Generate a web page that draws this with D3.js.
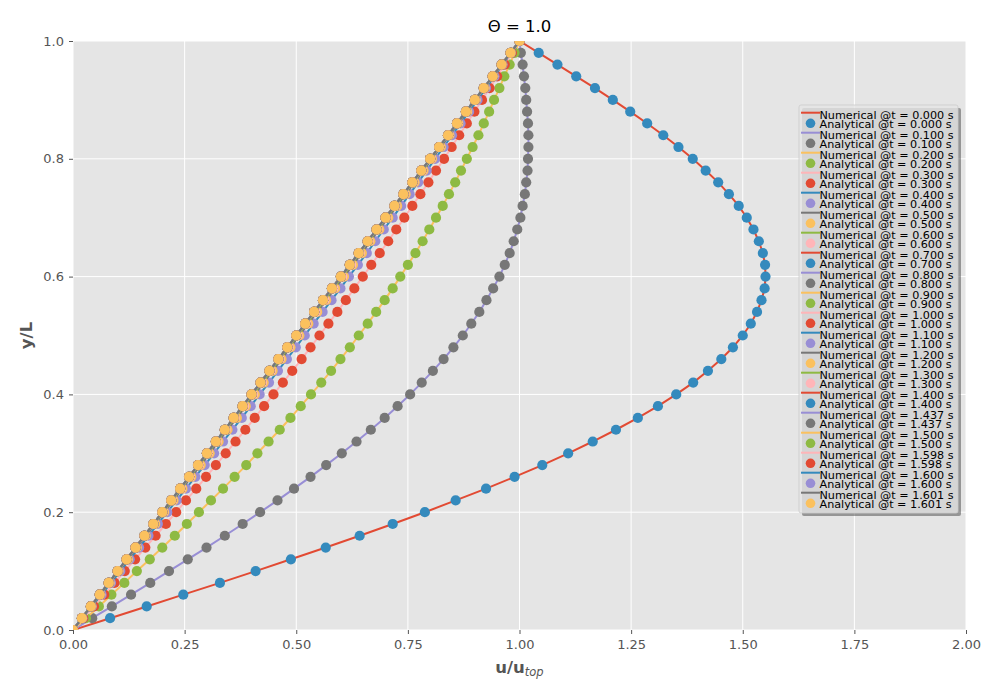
<!DOCTYPE html>
<html>
<head>
<meta charset="utf-8">
<script src="https://cdn.jsdelivr.net/npm/d3@7"></script>
<style>
  body { margin: 0; background: #fff; }
  svg text { font-family: "DejaVu Sans", sans-serif; }
</style>
</head>
<body>
<svg id="chart" width="1000" height="700"></svg>
<script>
// ── data ────────────────────────────────────────────────────
const yPos = [0, 0.02, 0.04, 0.06, 0.08, 0.10, 0.12, 0.14, 0.16, 0.18, 0.20, 0.22, 0.24, 0.26, 0.28, 0.30,
  0.32, 0.34, 0.36, 0.38, 0.40, 0.42, 0.44, 0.46, 0.48, 0.50, 0.52, 0.54, 0.56, 0.58, 0.60, 0.62, 0.64,
  0.66, 0.68, 0.70, 0.72, 0.74, 0.76, 0.78, 0.80, 0.82, 0.84, 0.86, 0.88, 0.90, 0.92, 0.94, 0.96, 0.98, 1.00];

const timeLabels = ['0.000', '0.100', '0.200', '0.300', '0.400', '0.500', '0.600', '0.700', '0.800', '0.900',
  '1.000', '1.100', '1.200', '1.300', '1.400', '1.437', '1.500', '1.598', '1.600', '1.601'];

const uT000 = [0, 0.083, 0.165, 0.247, 0.329, 0.409, 0.488, 0.566, 0.642, 0.716, 0.788, 0.857, 0.925, 0.989,
  1.051, 1.109, 1.164, 1.216, 1.265, 1.310, 1.351, 1.389, 1.422, 1.452, 1.478, 1.500, 1.518, 1.532, 1.542,
  1.549, 1.551, 1.550, 1.545, 1.536, 1.524, 1.509, 1.491, 1.469, 1.445, 1.417, 1.388, 1.356, 1.322, 1.286,
  1.248, 1.209, 1.169, 1.127, 1.085, 1.043, 1.000];
const uT010 = [0, 0.043, 0.087, 0.130, 0.173, 0.215, 0.257, 0.299, 0.340, 0.380, 0.419, 0.458, 0.495, 0.532,
  0.567, 0.602, 0.635, 0.667, 0.698, 0.727, 0.755, 0.781, 0.806, 0.830, 0.852, 0.873, 0.892, 0.910, 0.926,
  0.941, 0.955, 0.967, 0.978, 0.987, 0.995, 1.002, 1.007, 1.012, 1.015, 1.018, 1.019, 1.020, 1.020, 1.019,
  1.017, 1.015, 1.013, 1.010, 1.007, 1.003, 1.000];
const uT020 = [0, 0.029, 0.058, 0.086, 0.115, 0.143, 0.172, 0.200, 0.228, 0.255, 0.282, 0.309, 0.336, 0.362,
  0.388, 0.413, 0.438, 0.463, 0.487, 0.510, 0.533, 0.556, 0.578, 0.599, 0.620, 0.640, 0.660, 0.679, 0.698,
  0.716, 0.733, 0.750, 0.767, 0.783, 0.798, 0.813, 0.828, 0.842, 0.856, 0.869, 0.882, 0.895, 0.908, 0.920,
  0.932, 0.943, 0.955, 0.966, 0.978, 0.989, 1.000];
const uT030 = [0, 0.023, 0.047, 0.070, 0.093, 0.116, 0.139, 0.162, 0.185, 0.208, 0.231, 0.253, 0.276, 0.298,
  0.320, 0.342, 0.364, 0.386, 0.407, 0.428, 0.449, 0.470, 0.491, 0.512, 0.532, 0.552, 0.572, 0.592, 0.611,
  0.630, 0.649, 0.668, 0.687, 0.706, 0.724, 0.742, 0.760, 0.778, 0.796, 0.813, 0.831, 0.848, 0.865, 0.882,
  0.899, 0.916, 0.933, 0.950, 0.967, 0.983, 1.000];
const uT040 = [0, 0.021, 0.042, 0.064, 0.085, 0.106, 0.127, 0.148, 0.169, 0.190, 0.211, 0.232, 0.253, 0.274,
  0.295, 0.316, 0.336, 0.357, 0.378, 0.398, 0.418, 0.439, 0.459, 0.479, 0.499, 0.519, 0.539, 0.559, 0.579,
  0.599, 0.618, 0.638, 0.658, 0.677, 0.696, 0.716, 0.735, 0.754, 0.773, 0.792, 0.811, 0.830, 0.849, 0.868,
  0.887, 0.906, 0.925, 0.944, 0.962, 0.981, 1.000];
const uT050 = [0, 0.020, 0.041, 0.061, 0.082, 0.102, 0.123, 0.143, 0.163, 0.184, 0.204, 0.225, 0.245, 0.265,
  0.286, 0.306, 0.326, 0.346, 0.367, 0.387, 0.407, 0.427, 0.447, 0.467, 0.487, 0.507, 0.527, 0.547, 0.567,
  0.587, 0.607, 0.627, 0.647, 0.666, 0.686, 0.706, 0.726, 0.745, 0.765, 0.785, 0.804, 0.824, 0.843, 0.863,
  0.883, 0.902, 0.922, 0.941, 0.961, 0.980, 1.000];
const uT060 = [0, 0.020, 0.040, 0.061, 0.081, 0.101, 0.121, 0.141, 0.161, 0.181, 0.202, 0.222, 0.242, 0.262,
  0.282, 0.302, 0.322, 0.342, 0.362, 0.383, 0.403, 0.423, 0.443, 0.463, 0.483, 0.503, 0.523, 0.543, 0.563,
  0.583, 0.603, 0.623, 0.642, 0.662, 0.682, 0.702, 0.722, 0.742, 0.762, 0.782, 0.802, 0.821, 0.841, 0.861,
  0.881, 0.901, 0.921, 0.941, 0.960, 0.980, 1.000];
// t >= 0.7 s : all profiles sit on the straight line
const uLate = [0, 0.02, 0.04, 0.06, 0.08, 0.10, 0.12, 0.14, 0.16, 0.18, 0.20, 0.22, 0.24, 0.26, 0.28, 0.30,
  0.32, 0.34, 0.36, 0.38, 0.40, 0.42, 0.44, 0.46, 0.48, 0.50, 0.52, 0.54, 0.56, 0.58, 0.60, 0.62, 0.64,
  0.66, 0.68, 0.70, 0.72, 0.74, 0.76, 0.78, 0.80, 0.82, 0.84, 0.86, 0.88, 0.90, 0.92, 0.94, 0.96, 0.98, 1.00];

const profiles = [uT000, uT010, uT020, uT030, uT040, uT050, uT060,
  uLate, uLate, uLate, uLate, uLate, uLate, uLate, uLate, uLate, uLate, uLate, uLate, uLate];

const xTicks = [0, 0.25, 0.5, 0.75, 1.0, 1.25, 1.5, 1.75, 2.0];
const yTicks = [0, 0.2, 0.4, 0.6, 0.8, 1.0];

// ggplot colour cycle
const palette = ['#E24A33', '#348ABD', '#988ED5', '#777777', '#FBC15E', '#8EBA42', '#FFB5B8'];

// ── layout ──────────────────────────────────────────────────
const margin = { top: 41, right: 34, bottom: 70, left: 73 };
const W = 1000 - margin.left - margin.right;
const H = 700 - margin.top - margin.bottom;

const svg = d3.select('#chart');
const g = svg.append('g').attr('transform', `translate(${margin.left},${margin.top})`);

const x = d3.scaleLinear().domain([0, 2]).range([0, W]);
const y = d3.scaleLinear().domain([0, 1]).range([H, 0]);

g.append('rect').attr('width', W).attr('height', H).attr('fill', '#E5E5E5');

svg.append('defs').append('clipPath').attr('id', 'plot-clip')
  .append('rect').attr('width', W).attr('height', H);

// grid
g.selectAll('.grid-x')
  .data(xTicks).enter().append('line')
    .attr('x1', d => x(d)).attr('x2', d => x(d))
    .attr('y1', 0).attr('y2', H)
    .attr('stroke', '#fff').attr('stroke-width', 1);
g.selectAll('.grid-y')
  .data(yTicks).enter().append('line')
    .attr('x1', 0).attr('x2', W)
    .attr('y1', d => y(d)).attr('y2', d => y(d))
    .attr('stroke', '#fff').attr('stroke-width', 1);

// axes
const xAxis = g.append('g')
  .attr('transform', `translate(0,${H})`)
  .call(d3.axisBottom(x).tickValues(xTicks).tickFormat(d3.format('.2f')).tickSize(4).tickPadding(6));
const yAxis = g.append('g')
  .call(d3.axisLeft(y).tickValues(yTicks).tickFormat(d3.format('.1f')).tickSize(4).tickPadding(5));
[xAxis, yAxis].forEach(a => {
  a.select('.domain').remove();
  a.selectAll('line').attr('stroke', '#555555');
  a.selectAll('text').attr('fill', '#555555').attr('font-size', 13)
    .attr('font-family', '"DejaVu Sans", sans-serif');
});

// profiles: numerical line then analytical markers, in plot order
const data = g.append('g').attr('clip-path', 'url(#plot-clip)');
const line = d3.line().x(d => x(d[0])).y(d => y(d[1]));

profiles.forEach((u, i) => {
  const pts = u.map((v, k) => [v, yPos[k]]);
  data.append('path')
    .datum(pts)
    .attr('d', line)
    .attr('fill', 'none')
    .attr('stroke', palette[(2 * i) % 7])
    .attr('stroke-width', 2);
  data.selectAll(`.pt-${i}`)
    .data(pts).enter().append('circle')
      .attr('cx', d => x(d[0]))
      .attr('cy', d => y(d[1]))
      .attr('r', 5.1)
      .attr('fill', palette[(2 * i + 1) % 7]);
});

// title and labels
svg.append('text')
  .attr('x', margin.left + W / 2).attr('y', 32)
  .attr('text-anchor', 'middle')
  .attr('font-size', 16.5).attr('fill', '#000')
  .text('Θ = 1.0');

const xl = svg.append('text')
  .attr('x', margin.left + W / 2).attr('y', 673)
  .attr('text-anchor', 'middle')
  .attr('font-size', 16.5).attr('fill', '#555555');
xl.append('tspan').attr('font-weight', 'bold').text('u/u');
xl.append('tspan').attr('font-style', 'italic').attr('font-size', 11.5).attr('dy', 3).text('top');

svg.append('text')
  .attr('transform', 'translate(32,335.5) rotate(-90)')
  .attr('text-anchor', 'middle')
  .attr('font-size', 16.5).attr('font-weight', 'bold').attr('fill', '#555555')
  .text('y/L');

// legend with shadow
const lg = svg.append('g');
const box = { x: 799, y: 105, w: 159, h: 408 };
lg.append('rect')
  .attr('x', box.x + 3).attr('y', box.y + 3).attr('width', box.w).attr('height', box.h)
  .attr('rx', 2).attr('fill', 'rgb(69,69,69)').attr('fill-opacity', 0.5);
lg.append('rect')
  .attr('x', box.x).attr('y', box.y).attr('width', box.w).attr('height', box.h)
  .attr('rx', 2).attr('fill', '#E5E5E5').attr('fill-opacity', 0.8)
  .attr('stroke', '#cccccc').attr('stroke-opacity', 0.8);

timeLabels.forEach((t, i) => {
  const yn = 112.7 + 20 * i;   // numerical row
  const ya = 123.3 + 20 * i;   // analytical row
  lg.append('line')
    .attr('x1', 801).attr('x2', 820).attr('y1', yn).attr('y2', yn)
    .attr('stroke', palette[(2 * i) % 7]).attr('stroke-width', 2);
  lg.append('text')
    .attr('x', 819.5).attr('y', yn + 6)
    .attr('font-size', 11.2).attr('fill', '#000')
    .text(`Numerical @t = ${t} s`);
  lg.append('circle')
    .attr('cx', 810.5).attr('cy', ya).attr('r', 4.8)
    .attr('fill', palette[(2 * i + 1) % 7]);
  lg.append('text')
    .attr('x', 819.5).attr('y', ya + 4.4)
    .attr('font-size', 11.2).attr('fill', '#000')
    .text(`Analytical @t = ${t} s`);
});
</script>
</body>
</html>
